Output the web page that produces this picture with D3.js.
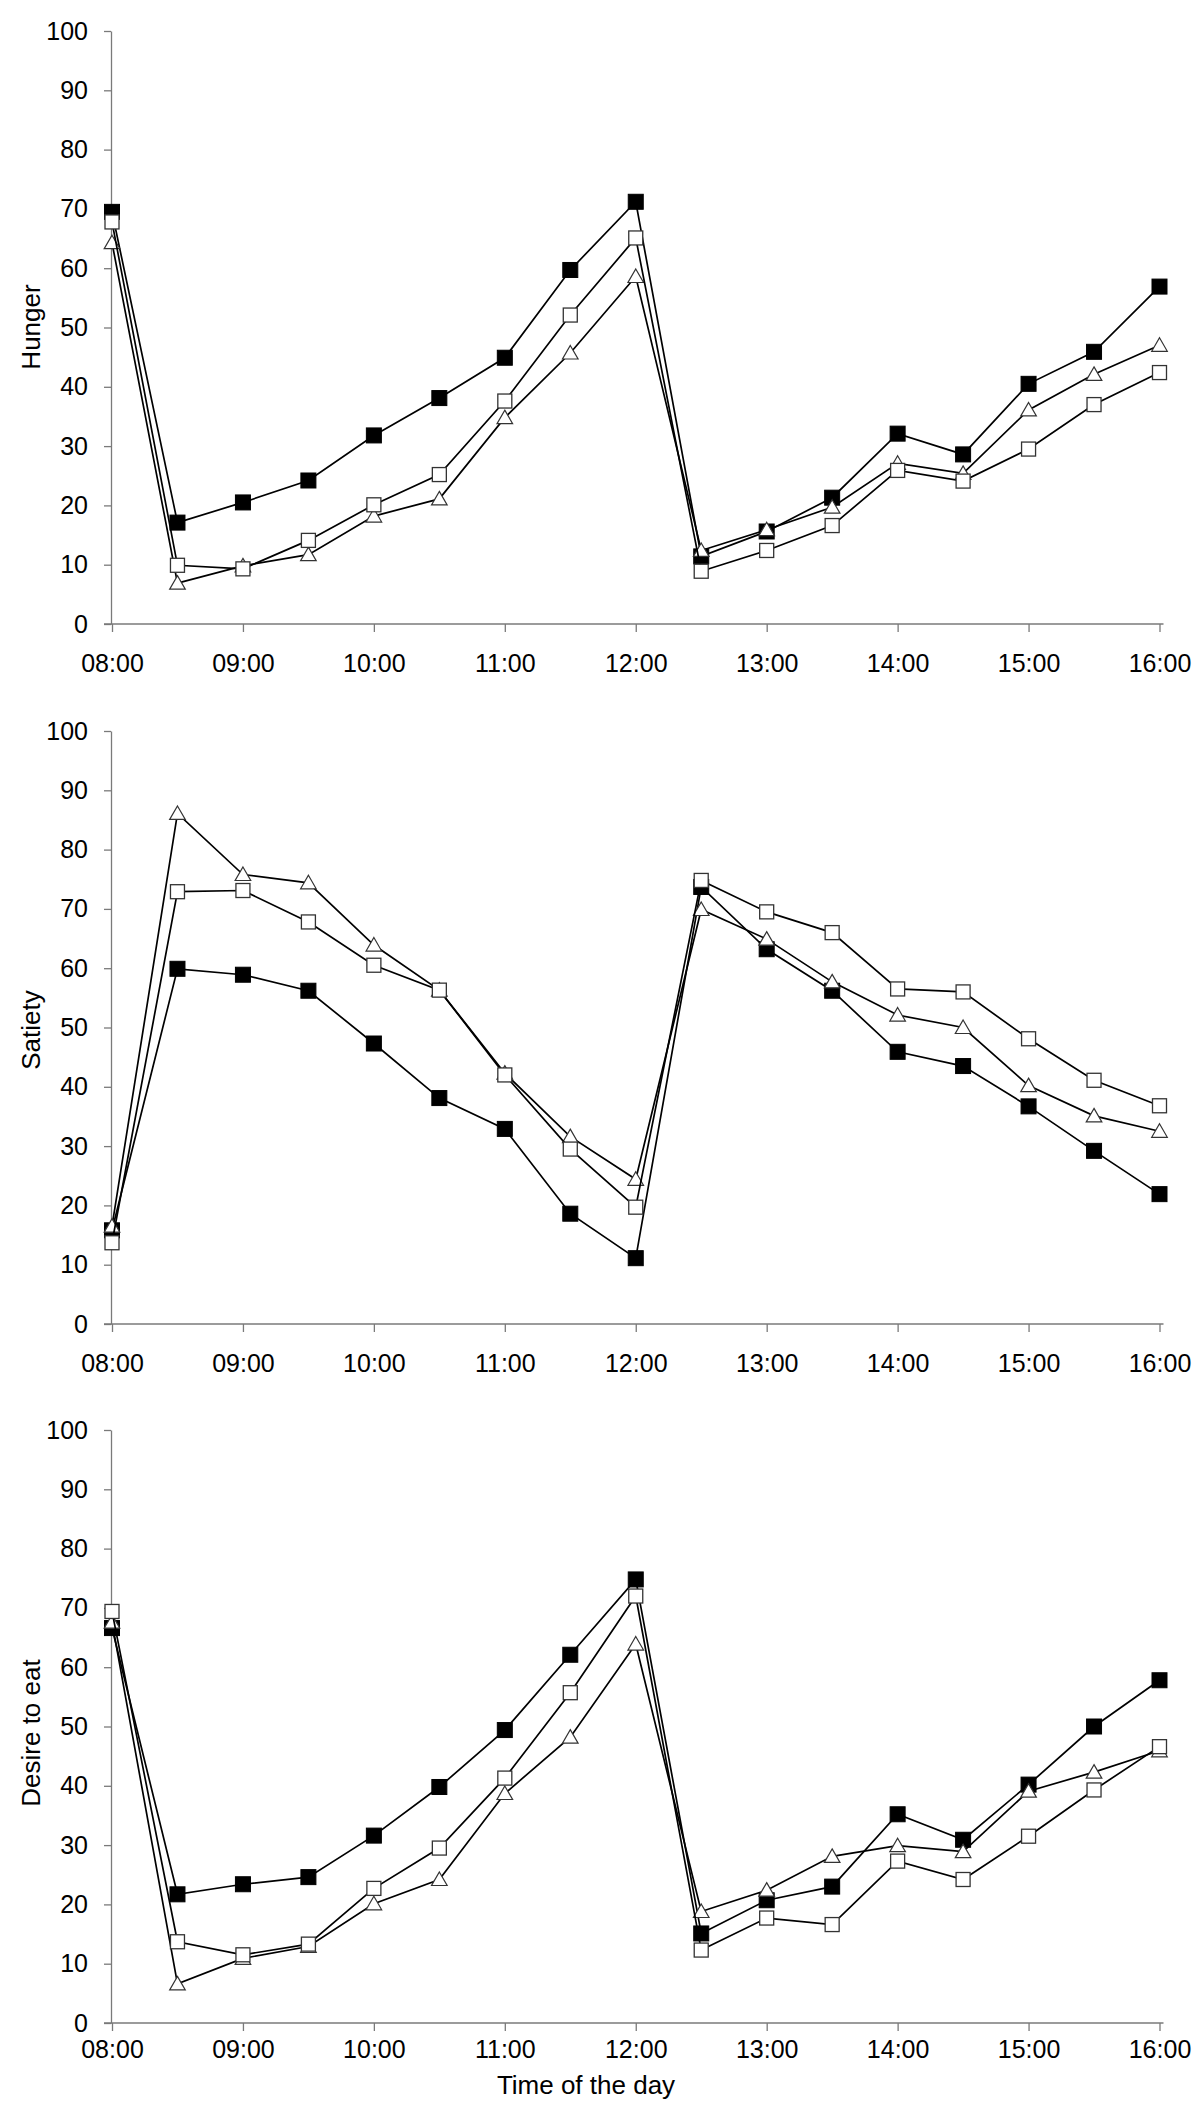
<!DOCTYPE html>
<html>
<head>
<meta charset="utf-8">
<script src="https://cdn.jsdelivr.net/npm/d3@7"></script>
<style>
  html, body { margin: 0; padding: 0; background: #fff; }
  svg { display: block; font-family: "Liberation Sans", Arial, sans-serif; }
</style>
</head>
<body>
<svg id="chart" width="1200" height="2127"></svg>
<script>
// ---- data ----
const times = ["08:00","08:30","09:00","09:30","10:00","10:30","11:00","11:30","12:00",
               "12:30","13:00","13:30","14:00","14:30","15:00","15:30","16:00"];
const tickLabels = ["08:00","09:00","10:00","11:00","12:00","13:00","14:00","15:00","16:00"];
const yTicks = [0,10,20,30,40,50,60,70,80,90,100];
const panelTitles = ["Hunger", "Satiety", "Desire to eat"];
const xAxisTitle = "Time of the day";

// filled squares
const hungerFilled = [69.5,17.1,20.5,24.2,31.8,38.1,44.9,59.7,71.2,11.4,15.6,21.3,32.1,28.6,40.5,45.9,56.9];
// open squares
const hungerOpen   = [67.8,9.9,9.3,14.1,20.1,25.2,37.6,52.1,65.1,8.9,12.4,16.6,25.9,24.1,29.5,37.0,42.4];
// open triangles
const hungerTri    = [64.3,6.9,9.8,11.7,18.2,21.1,34.8,45.7,58.6,12.4,15.9,19.7,27.1,25.4,36.1,42.1,47.0];

const satietyFilled = [15.8,59.9,58.9,56.2,47.3,38.1,32.9,18.6,11.1,73.7,63.2,56.2,45.9,43.5,36.7,29.2,21.9];
const satietyOpen   = [13.7,72.9,73.1,67.8,60.5,56.3,42.0,29.5,19.7,74.8,69.5,66.0,56.5,56.0,48.1,41.1,36.8];
const satietyTri    = [16.5,86.1,75.8,74.4,63.9,56.3,42.3,31.6,24.4,69.9,64.9,57.7,52.1,50.0,40.2,35.1,32.5];

const desireFilled = [66.6,21.7,23.4,24.6,31.6,39.8,49.4,62.1,74.8,15.1,20.7,23.0,35.2,30.9,40.2,50.0,57.8];
const desireOpen   = [69.4,13.7,11.5,13.3,22.7,29.5,41.3,55.7,72.0,12.3,17.7,16.6,27.3,24.2,31.5,39.3,46.6];
const desireTri    = [67.6,6.6,10.9,12.9,20.1,24.2,38.7,48.2,63.9,18.8,22.4,28.1,29.9,28.9,39.1,42.3,45.9];

// ---- layout ----
const svg = d3.select("#chart");
const xLeft = 112, xRight = 1159.5;
const panels = [
  { title: panelTitles[0], filled: hungerFilled,  open: hungerOpen,  tri: hungerTri,  top: 31,   bottom: 624,  labGap: 22, titleY: 327 },
  { title: panelTitles[1], filled: satietyFilled, open: satietyOpen, tri: satietyTri, top: 731,  bottom: 1324, labGap: 22, titleY: 1030 },
  { title: panelTitles[2], filled: desireFilled,  open: desireOpen,  tri: desireTri,  top: 1430, bottom: 2023, labGap: 9,  titleY: 1733 }
];

const x = d3.scalePoint().domain(times).range([xLeft, xRight]);
const axisColor = "#7a7a7a";
const fontSize = 25;

panels.forEach((p, pi) => {
  const y = d3.scaleLinear().domain([0, 100]).range([p.bottom, p.top]);
  const g = svg.append("g");

  // y axis
  const ya = g.append("g")
    .attr("transform", `translate(${xLeft - 1},0)`)
    .call(d3.axisLeft(y).tickValues(yTicks).tickSize(7).tickSizeOuter(0).tickPadding(16));
  ya.select(".domain").attr("stroke", axisColor).attr("stroke-width", 1.3);
  ya.selectAll(".tick line").attr("stroke", axisColor).attr("stroke-width", 1.3);
  ya.selectAll(".tick text").attr("font-size", fontSize).attr("fill", "#000")
    .attr("font-family", '"Liberation Sans", Arial, sans-serif');

  // x axis
  const xa = g.append("g")
    .attr("transform", `translate(0,${p.bottom})`)
    .call(d3.axisBottom(x).tickValues(tickLabels).tickSize(8).tickSizeOuter(0).tickPadding(p.labGap));
  xa.select(".domain").remove();
  xa.append("line").attr("x1", xLeft - 8).attr("x2", xRight + 4).attr("y1", 0).attr("y2", 0)
    .attr("stroke", axisColor).attr("stroke-width", 1.3);
  xa.selectAll(".tick line").attr("stroke", axisColor).attr("stroke-width", 1.3);
  xa.selectAll(".tick text").attr("font-size", fontSize).attr("fill", "#000")
    .attr("font-family", '"Liberation Sans", Arial, sans-serif');

  // y title
  g.append("text")
    .attr("transform", `translate(40,${p.titleY}) rotate(-90)`)
    .attr("text-anchor", "middle")
    .attr("font-size", 26)
    .attr("fill", "#000")
    .text(p.title);

  const line = d3.line().x((d, i) => x(times[i])).y(d => y(d));
  const ms = 15;

  // series order: filled squares, triangles, open squares
  g.append("path").datum(p.filled).attr("d", line).attr("fill", "none")
    .attr("stroke", "#000").attr("stroke-width", 1.7);
  g.selectAll(".fsq").data(p.filled).enter().append("rect")
    .attr("x", (d, i) => x(times[i]) - ms / 2).attr("y", d => y(d) - ms / 2)
    .attr("width", ms).attr("height", ms)
    .attr("fill", "#000").attr("stroke", "#000").attr("stroke-width", 1);

  g.append("path").datum(p.tri).attr("d", line).attr("fill", "none")
    .attr("stroke", "#000").attr("stroke-width", 1.7);
  g.selectAll(".tri").data(p.tri).enter().append("path")
    .attr("d", "M0,-7.5 L7.8,6 L-7.8,6 Z")
    .attr("transform", (d, i) => `translate(${x(times[i])},${y(d)})`)
    .attr("fill", "#fff").attr("stroke", "#333").attr("stroke-width", 1.2);

  g.append("path").datum(p.open).attr("d", line).attr("fill", "none")
    .attr("stroke", "#000").attr("stroke-width", 1.7);
  g.selectAll(".osq").data(p.open).enter().append("rect")
    .attr("x", (d, i) => x(times[i]) - ms / 2 + 0.5).attr("y", d => y(d) - ms / 2 + 0.5)
    .attr("width", ms - 1).attr("height", ms - 1)
    .attr("fill", "#fff").attr("stroke", "#333").attr("stroke-width", 1.3);

  if (pi === 2) {
    svg.append("text")
      .attr("x", 586).attr("y", 2094)
      .attr("text-anchor", "middle")
      .attr("font-size", 26)
      .attr("fill", "#000")
      .text(xAxisTitle);
  }
});
</script>
</body>
</html>
